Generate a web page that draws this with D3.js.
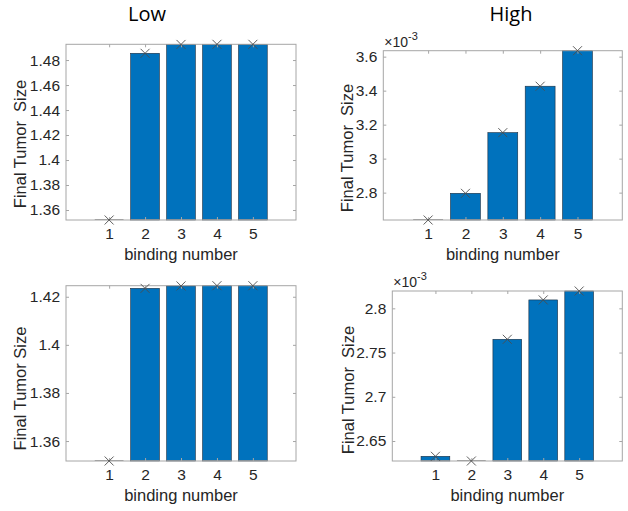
<!DOCTYPE html>
<html><head><meta charset="utf-8">
<script src="https://cdn.jsdelivr.net/npm/d3@7"></script>
<style>
html,body{margin:0;padding:0;background:#fff;}
svg{display:block;}
text{white-space:pre;}
</style></head>
<body>
<svg id="c" width="628" height="511"></svg>
<script>
// ---- data ----
const categories = [1, 2, 3, 4, 5];
const lowTopValues = [1.3520, 1.4854, 1.4925, 1.4926, 1.4926];
const highTopValues = [2.639, 2.796, 3.153, 3.426, 3.635];      // x 10^-3
const lowBottomValues = [1.3517, 1.4235, 1.4245, 1.4246, 1.4246];
const highBottomValues = [2.6327, 2.6274, 2.765, 2.8095, 2.8196]; // x 10^-3
const lowTopTicks = [1.36, 1.38, 1.40, 1.42, 1.44, 1.46, 1.48];
const highTopTicks = [2.8, 3.0, 3.2, 3.4, 3.6];
const lowBottomTicks = [1.36, 1.38, 1.40, 1.42];
const highBottomTicks = [2.65, 2.70, 2.75, 2.80];
const columnTitles = ["Low", "High"];
const xLabel = "binding number";
const yLabels = ["Final Tumor  Size", "Final Tumor  Size", "Final Tumor Size", "Final Tumor  Size"];

// ---- layout ----
const panels = [
  {values: lowTopValues, ticks: lowTopTicks, box: [66, 44.3, 296, 220], yl: yLabels[0], ylx: 26, yly: 144, exp: false},
  {values: highTopValues, ticks: highTopTicks, box: [383.3, 50.7, 622.3, 220], yl: yLabels[1], ylx: 353, yly: 148, exp: true, expY: 47},
  {values: lowBottomValues, ticks: lowBottomTicks, box: [66, 285.7, 296, 461], yl: yLabels[2], ylx: 26, yly: 388.5, exp: false},
  {values: highBottomValues, ticks: highBottomTicks, box: [392.3, 291, 622.3, 461], yl: yLabels[3], ylx: 354, yly: 390, exp: true, expY: 287}
];

const svg = d3.select("#c");
const fontMain = "'Liberation Sans', Arial, sans-serif";
const txtColor = "#262626";
const axisColor = "#a6a6a6";
const barColor = "#0072bd";

panels.forEach(p => {
  const [x0, y0, x1, y1] = p.box;
  const x = d3.scaleLinear().domain([-0.2, 6.2]).range([x0, x1]);
  const y = d3.scaleLinear().domain(d3.extent(p.values)).range([y1, y0]);
  const g = svg.append("g");
  const bw = x(0.8) - x(0);

  // bars
  g.selectAll("rect.bar").data(p.values).enter().append("rect")
    .attr("class", "bar")
    .attr("x", (d, i) => x(categories[i]) - bw / 2)
    .attr("width", bw)
    .attr("y", d => y(d))
    .attr("height", d => Math.max(0, y1 - y(d)))
    .attr("fill", barColor)
    .attr("stroke", "#1c2e40")
    .attr("stroke-width", 0.6);

  // zero-height bar edges
  g.selectAll("line.base").data(p.values).enter().append("line")
    .attr("x1", (d, i) => x(categories[i]) - bw / 2)
    .attr("x2", (d, i) => x(categories[i]) + bw / 2)
    .attr("y1", y1 - 0.5).attr("y2", y1 - 0.5)
    .attr("stroke", "#888").attr("stroke-width", 0.8);

  // box
  g.append("rect").attr("x", x0).attr("y", y0).attr("width", x1 - x0).attr("height", y1 - y0)
    .attr("fill", "none").attr("stroke", axisColor).attr("stroke-width", 1);

  // axes (ticks inward)
  const tl = 3;
  const yAxis = d3.axisLeft(y).tickValues(p.ticks).tickSize(-tl).tickPadding(6)
    .tickFormat(d3.format("~g"));
  const ya = g.append("g").attr("transform", `translate(${x0},0)`).call(yAxis);
  const yr = g.append("g").attr("transform", `translate(${x1},0)`)
    .call(d3.axisRight(y).tickValues(p.ticks).tickSize(-tl).tickFormat(""));
  const xAxis = d3.axisBottom(x).tickValues(categories).tickSize(-tl).tickPadding(8)
    .tickFormat(d3.format("d"));
  const xa = g.append("g").attr("transform", `translate(0,${y1})`).call(xAxis);
  const xt = g.append("g").attr("transform", `translate(0,${y0})`)
    .call(d3.axisTop(x).tickValues(categories).tickSize(-tl).tickFormat(""));
  [ya, yr, xa, xt].forEach(a => {
    a.select(".domain").remove();
    a.selectAll(".tick line").attr("stroke", axisColor);
    a.selectAll("text").attr("fill", txtColor).style("font-family", fontMain).style("font-size", "15.5px");
  });

  // markers
  const ms = 4.5;
  g.selectAll("path.mk").data(p.values).enter().append("path")
    .attr("d", (d, i) => {
      const cx = x(categories[i]), cy = y(d);
      return `M${cx - ms},${cy - ms}L${cx + ms},${cy + ms}M${cx - ms},${cy + ms}L${cx + ms},${cy - ms}`;
    })
    .attr("stroke", "#4d4d4d").attr("stroke-width", 0.9).attr("fill", "none");

  // x label
  g.append("text").attr("x", (x0 + x1) / 2).attr("y", y1 + 40).attr("text-anchor", "middle")
    .style("font-family", fontMain).style("font-size", "16.5px").attr("fill", txtColor).text(xLabel);
  // y label
  g.append("text").attr("transform", `translate(${p.ylx},${p.yly}) rotate(-90)`).attr("text-anchor", "middle")
    .style("font-family", fontMain).style("font-size", "16.5px").attr("fill", txtColor).text(p.yl);
  // exponent
  if (p.exp) {
    const t = g.append("text").attr("x", x0 + 1).attr("y", p.expY)
      .style("font-family", fontMain).style("font-size", "14px").attr("fill", txtColor);
    t.append("tspan").text("\u00d710");
    t.append("tspan").attr("dy", -7).style("font-size", "11px").text("-3");
  }
});

// column titles
const titleFont = "'Open Sans', 'Noto Sans', sans-serif";
svg.append("text").attr("x", 147).attr("y", 21).attr("text-anchor", "middle")
  .style("font-family", titleFont).style("font-weight", 400).style("font-size", "20px").attr("fill", "#000").text(columnTitles[0]);
svg.append("text").attr("x", 511).attr("y", 21).attr("text-anchor", "middle")
  .style("font-family", titleFont).style("font-weight", 400).style("font-size", "20px").attr("fill", "#000").text(columnTitles[1]);
</script>
</body></html>
